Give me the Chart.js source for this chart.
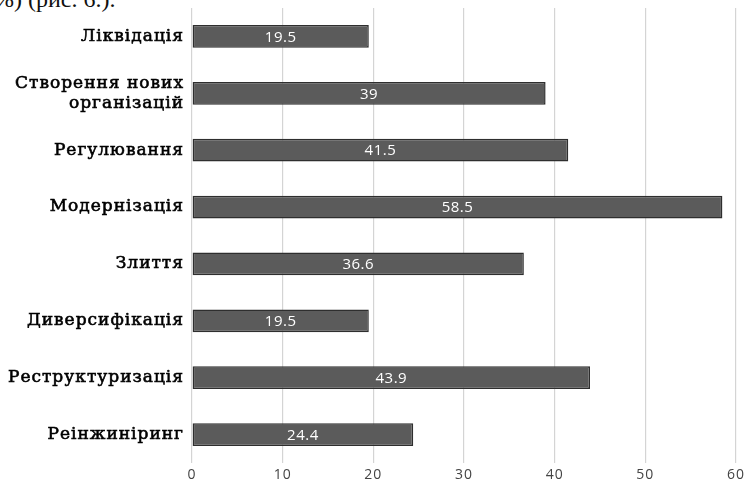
<!DOCTYPE html>
<html><head><meta charset="utf-8">
<script src="https://cdn.jsdelivr.net/npm/chart.js@4/dist/chart.umd.min.js"></script>
<style>
html,body{margin:0;padding:0;background:#fff;overflow:hidden;}
#wrap{position:relative;width:748px;height:483px;}
#cap{position:absolute;left:-6px;top:-14px;font-family:"Liberation Serif",serif;font-size:24px;color:#111;white-space:nowrap;}
canvas{position:absolute;left:0;top:0;}
</style></head>
<body>
<div id="wrap"><div id="cap">%) (рис. 6.).</div><canvas id="c" width="748" height="483"></canvas></div>
<script>
const categories = ["Ліквідація", ["Створення нових", "організацій"], "Регулювання", "Модернізація", "Злиття", "Диверсифікація", "Реструктуризація", "Реінжиніринг"];
const values = [19.5, 39, 41.5, 58.5, 36.6, 19.5, 43.9, 24.4];
const valueLabels = ["19.5", "39", "41.5", "58.5", "36.6", "19.5", "43.9", "24.4"];
const xTicks = [0, 10, 20, 30, 40, 50, 60];

const spacingPlugin = {
  id: 'spacing',
  beforeInit(chart) { chart.ctx.letterSpacing = '1px'; },
  beforeLayout(chart) { chart.ctx.letterSpacing = '1px'; },
  beforeDraw(chart) { chart.ctx.letterSpacing = '1px'; }
};

const labelPlugin = {
  id: 'barLabels',
  afterDatasetsDraw(chart) {
    const ctx = chart.ctx;
    const meta = chart.getDatasetMeta(0);
    ctx.save();
    ctx.letterSpacing = '0.5px';
    ctx.fillStyle = '#ffffff';
    ctx.font = '15px "Open Sans", Lato, sans-serif';
    ctx.textAlign = 'center';
    ctx.textBaseline = 'middle';
    meta.data.forEach((bar, i) => {
      const cx = (bar.x + bar.base) / 2;
      ctx.fillText(valueLabels[i], cx, bar.y + 1);
    });
    ctx.restore();
  }
};

new Chart(document.getElementById('c'), {
  type: 'bar',
  data: {
    labels: categories,
    datasets: [{
      data: values,
      backgroundColor: '#5b5b5b',
      borderColor: '#2e2e2e',
      borderWidth: 1.5,
      borderSkipped: false,
      barPercentage: 0.4,
      categoryPercentage: 1.0
    }]
  },
  options: {
    indexAxis: 'y',
    responsive: false,
    animation: false,
    layout: { padding: { left: 0, right: 12, top: 8, bottom: 0 } },
    plugins: { legend: { display: false }, tooltip: { enabled: false } },
    scales: {
      x: {
        min: 0, max: 60,
        afterBuildTicks(s) { s.ticks = xTicks.map(v => ({ value: v })); },
        afterFit(s) { s.height = 20; s.paddingLeft = 0; s.paddingRight = 0; },
        grid: { color: '#d4d4d4', lineWidth: 1.2, drawTicks: false },
        border: { display: false },
        ticks: { color: '#444', font: { family: '"Open Sans", Lato, sans-serif', size: 14 }, padding: 4 }
      },
      y: {
        afterFit(s) { s.width = 192; s.paddingTop = 0; s.paddingBottom = 0; },
        grid: { display: false, drawTicks: false },
        border: { display: false },
        ticks: { color: '#000', textStrokeColor: '#000', textStrokeWidth: 0.6, font: { family: '"DejaVu Serif", serif', size: 17 }, padding: 8 }
      }
    }
  },
  plugins: [spacingPlugin, labelPlugin]
});
</script>
</body></html>
